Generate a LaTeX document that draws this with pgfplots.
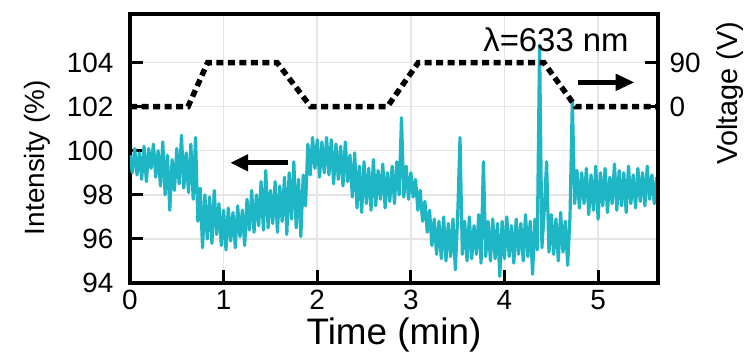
\documentclass[border=0pt]{standalone}
\usepackage{pgfplots}
\pgfplotsset{compat=1.18}
\usepackage{fontspec}
\setmainfont{Liberation Sans}
\usetikzlibrary{arrows.meta}
\definecolor{sig}{RGB}{30,182,196}
\pgfplotstableread{
t I
0.000 99.8
0.025 99.0
0.050 100.1
0.075 98.9
0.100 99.9
0.125 98.7
0.150 100.2
0.175 98.6
0.200 100.1
0.225 99.2
0.250 100.3
0.275 98.8
0.300 100.0
0.325 98.4
0.350 100.4
0.375 98.0
0.400 99.8
0.425 97.3
0.450 99.6
0.475 98.2
0.500 100.1
0.525 98.5
0.550 100.7
0.575 98.3
0.600 99.9
0.625 98.1
0.650 100.3
0.675 97.8
0.700 100.6
0.725 96.8
0.750 98.3
0.775 95.6
0.800 98.0
0.825 96.0
0.850 97.9
0.875 95.8
0.900 98.2
0.925 96.2
0.950 97.6
0.975 95.7
1.000 97.3
1.025 95.5
1.050 97.4
1.075 95.9
1.100 97.2
1.125 95.6
1.150 97.5
1.175 96.1
1.200 97.3
1.225 95.7
1.250 97.8
1.275 96.4
1.300 98.2
1.325 96.3
1.350 98.0
1.375 96.6
1.400 98.6
1.425 96.4
1.450 99.1
1.475 96.5
1.500 98.2
1.525 96.7
1.550 98.6
1.575 96.3
1.600 98.4
1.625 96.8
1.650 98.8
1.675 96.2
1.700 99.0
1.725 96.9
1.750 99.5
1.775 96.5
1.800 98.7
1.825 96.1
1.850 98.9
1.875 97.5
1.900 100.3
1.925 98.9
1.950 100.6
1.975 99.2
2.000 100.5
2.025 98.8
2.050 100.4
2.075 99.0
2.100 100.6
2.125 98.9
2.150 100.5
2.175 98.5
2.200 100.3
2.225 98.7
2.250 100.2
2.275 98.4
2.300 100.4
2.325 98.6
2.350 99.8
2.375 97.9
2.400 99.9
2.425 97.4
2.450 99.3
2.475 97.2
2.500 99.5
2.525 97.6
2.550 99.2
2.575 97.3
2.600 99.6
2.625 97.5
2.650 99.1
2.675 97.8
2.700 99.4
2.725 97.4
2.750 99.0
2.775 97.7
2.800 99.3
2.825 97.6
2.850 99.5
2.875 98.0
2.900 101.5
2.925 97.9
2.950 99.3
2.975 97.8
3.000 99.0
3.025 97.9
3.050 98.7
3.075 97.3
3.100 98.2
3.125 96.8
3.150 97.7
3.175 96.3
3.200 97.3
3.225 95.7
3.250 96.9
3.275 95.3
3.300 96.8
3.325 95.1
3.350 97.0
3.375 95.0
3.400 96.7
3.425 95.2
3.450 96.9
3.475 94.6
3.500 97.0
3.525 100.6
3.550 95.3
3.575 96.8
3.600 95.0
3.625 97.0
3.650 95.1
3.675 96.6
3.700 95.3
3.725 97.1
3.750 94.9
3.775 99.5
3.800 95.2
3.825 96.8
3.850 95.0
3.875 96.9
3.900 95.1
3.925 96.7
3.950 94.3
3.975 96.8
4.000 95.1
4.025 97.0
4.050 95.2
4.075 96.6
4.100 94.9
4.125 96.9
4.150 95.3
4.175 96.7
4.200 95.0
4.225 97.1
4.250 95.2
4.275 96.8
4.300 94.4
4.325 96.9
4.350 95.5
4.375 104.8
4.400 95.6
4.425 97.3
4.450 99.5
4.475 95.4
4.500 97.1
4.525 95.3
4.550 96.9
4.575 95.0
4.600 97.2
4.625 95.4
4.650 96.8
4.675 94.8
4.700 97.0
4.725 102.3
4.750 97.6
4.775 99.1
4.800 97.4
4.825 99.0
4.850 97.6
4.875 99.2
4.900 97.1
4.925 98.9
4.950 97.3
4.975 99.3
5.000 96.9
5.025 99.0
5.050 97.5
5.075 99.2
5.100 97.2
5.125 98.8
5.150 97.6
5.175 99.4
5.200 97.3
5.225 99.1
5.250 97.5
5.275 99.0
5.300 97.2
5.325 99.3
5.350 97.6
5.375 98.9
5.400 97.4
5.425 99.2
5.450 97.7
5.475 99.0
5.500 97.5
5.525 99.3
5.550 97.8
5.575 98.9
5.600 97.6
5.625 98.8
}\intensity
\begin{document}
\begin{tikzpicture}
\begin{axis}[
  scale only axis, width=528bp, height=269bp,
  xmin=0, xmax=5.64, ymin=94, ymax=106.2,
  xtick={0,1,2,3,4,5}, ytick={94,96,98,100,102,104},
  xtick pos=bottom, ytick pos=left,
  tick align=inside,
  major tick length=13bp,
  every tick/.style={black, line width=3bp},
  axis line style={line width=3.5bp},
  grid=major, major grid style={gray!20, line width=1.5bp},
  /pgf/number format/assume math mode=true,
  ticklabel style={font=\fontsize{28}{30}\selectfont},
  yticklabel style={xshift=-13bp},
  xticklabel style={yshift=-4bp},
  xlabel={Time (min)},
  xlabel style={font=\fontsize{37}{40}\selectfont, at={(axis description cs:0.5,0)}, anchor=center, yshift=-52bp},
  ylabel={Intensity (\%)},
  ylabel style={font=\fontsize{28}{30}\selectfont, at={(axis description cs:0,0.5)}, anchor=center, yshift=93bp, xshift=-9bp},
  clip=true,
]
\addplot[sig, line width=3.2bp, line join=round] table[x=t, y=I] {\intensity};
\node[font=\fontsize{33}{36}\selectfont] at (axis cs:4.55,105.05) {λ=633 nm};
\draw[-{Triangle[length=18bp,width=16bp]}, line width=5bp] (axis cs:1.69,99.45) -- (axis cs:1.07,99.45);
\draw[-{Triangle[length=19bp,width=16bp]}, line width=5bp] (axis cs:4.79,103.1) -- (axis cs:5.39,103.1);
\end{axis}
\begin{axis}[
  scale only axis, width=528bp, height=269bp,
  xmin=0, xmax=5.64, ymin=-360, ymax=189,
  axis x line=none, axis y line*=right,
  ytick={0,90},
  tick align=inside,
  major tick length=13bp,
  every tick/.style={black, line width=3bp},
  axis line style={line width=3.5bp},
  /pgf/number format/assume math mode=true,
  ticklabel style={font=\fontsize{28}{30}\selectfont},
  yticklabel style={xshift=8bp},
  ylabel={Voltage (V)},
  ylabel style={font=\fontsize{29}{30}\selectfont, at={(axis description cs:1,0.706)}, anchor=center, yshift=-72bp},
]
\addplot[black, line width=5.5bp, dash pattern=on 7bp off 4.5bp] coordinates {(0,0) (0.62,0) (0.83,90) (1.57,90) (1.93,0) (2.75,0) (3.08,90) (4.42,90) (4.76,0) (5.64,0)};
\end{axis}
\path (current axis.south west) ++(-130bp,-80bp) rectangle ++(747bp,363bp);
\end{tikzpicture}
\end{document}
